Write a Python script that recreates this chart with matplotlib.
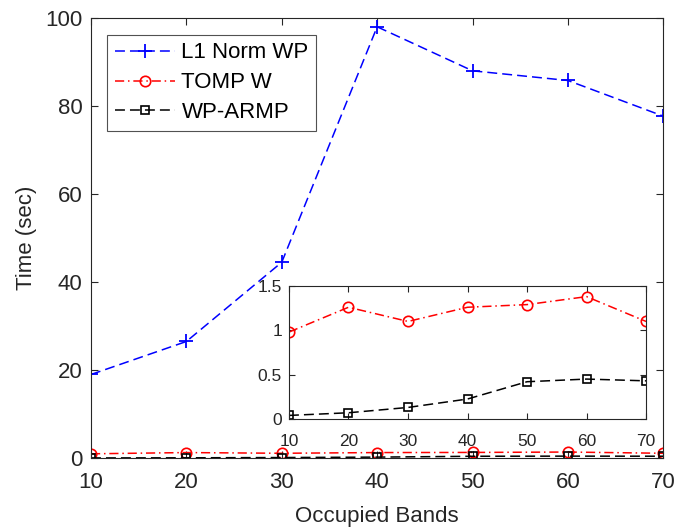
import numpy as np
import matplotlib.pyplot as plt

plt.rcParams['font.family'] = ['Liberation Sans', 'DejaVu Sans']

bands = [10, 20, 30, 40, 50, 60, 70]
l1_norm_wp = [19.0, 26.5, 44.5, 98.0, 88.0, 85.8, 77.7]
tomp_w = [0.98, 1.26, 1.10, 1.26, 1.29, 1.38, 1.10]
wp_armp = [0.04, 0.07, 0.13, 0.225, 0.42, 0.45, 0.43]

gray = '#262626'
dash = (6.5, 3.3)
dashdot = (6.0, 2.5, 1.0, 2.5)

fig = plt.figure(figsize=(6.92, 5.29), dpi=100)
ax = fig.add_axes([0.1315, 0.134, 0.827, 0.832])

ax.plot(bands, l1_norm_wp, c='b', dashes=dash, marker='+', ms=10, mew=1.3, lw=1.1, label='L1 Norm WP')
ax.plot(bands, tomp_w, c='r', dashes=dashdot, marker='o', ms=7.5, mfc='none', mew=1.2, lw=1.1, label='TOMP W')
ax.plot(bands, wp_armp, c='k', dashes=dash, marker='s', ms=6, mfc='none', mew=1.2, lw=1.1, label='WP-ARMP')

ax.set_xlim(10, 70)
ax.set_ylim(0, 100)
ax.set_xticks(bands)
ax.set_yticks([0, 20, 40, 60, 80, 100])
ax.tick_params(direction='in', labelsize=16, colors=gray, length=5, top=True, right=True)
ax.tick_params(axis='x', pad=10)
ax.tick_params(axis='y', pad=6)
ax.set_xlabel('Occupied Bands', fontsize=16, color=gray, labelpad=9)
ax.set_ylabel('Time (sec)', fontsize=16, color=gray, labelpad=6)
for s in ax.spines.values():
    s.set_color(gray)

leg = ax.legend(loc='upper left', fontsize=16, fancybox=False, edgecolor=gray,
                bbox_to_anchor=(0.028, 0.962), handlelength=2.7, handletextpad=0.3,
                borderpad=0.35, labelspacing=0.4, borderaxespad=0)
leg.get_frame().set_linewidth(0.8)

# inset zoom on the two fast methods
ins = fig.add_axes([0.4176, 0.208, 0.516, 0.2514])
ins.plot(bands, tomp_w, c='r', dashes=dashdot, marker='o', ms=7.5, mfc='none', mew=1.2, lw=1.1)
ins.plot(bands, wp_armp, c='k', dashes=dash, marker='s', ms=6, mfc='none', mew=1.2, lw=1.1)
ins.set_xlim(10, 70)
ins.set_ylim(0, 1.5)
ins.set_xticks(bands)
ins.set_yticks([0, 0.5, 1, 1.5])
ins.set_yticklabels(['0', '0.5', '1', '1.5'])
ins.tick_params(direction='in', labelsize=12.5, colors=gray, length=4, top=True, right=True)
ins.tick_params(axis='x', pad=11)
ins.tick_params(axis='y', pad=5)
for s in ins.spines.values():
    s.set_color(gray)

fig.savefig('out.png', dpi=100)
